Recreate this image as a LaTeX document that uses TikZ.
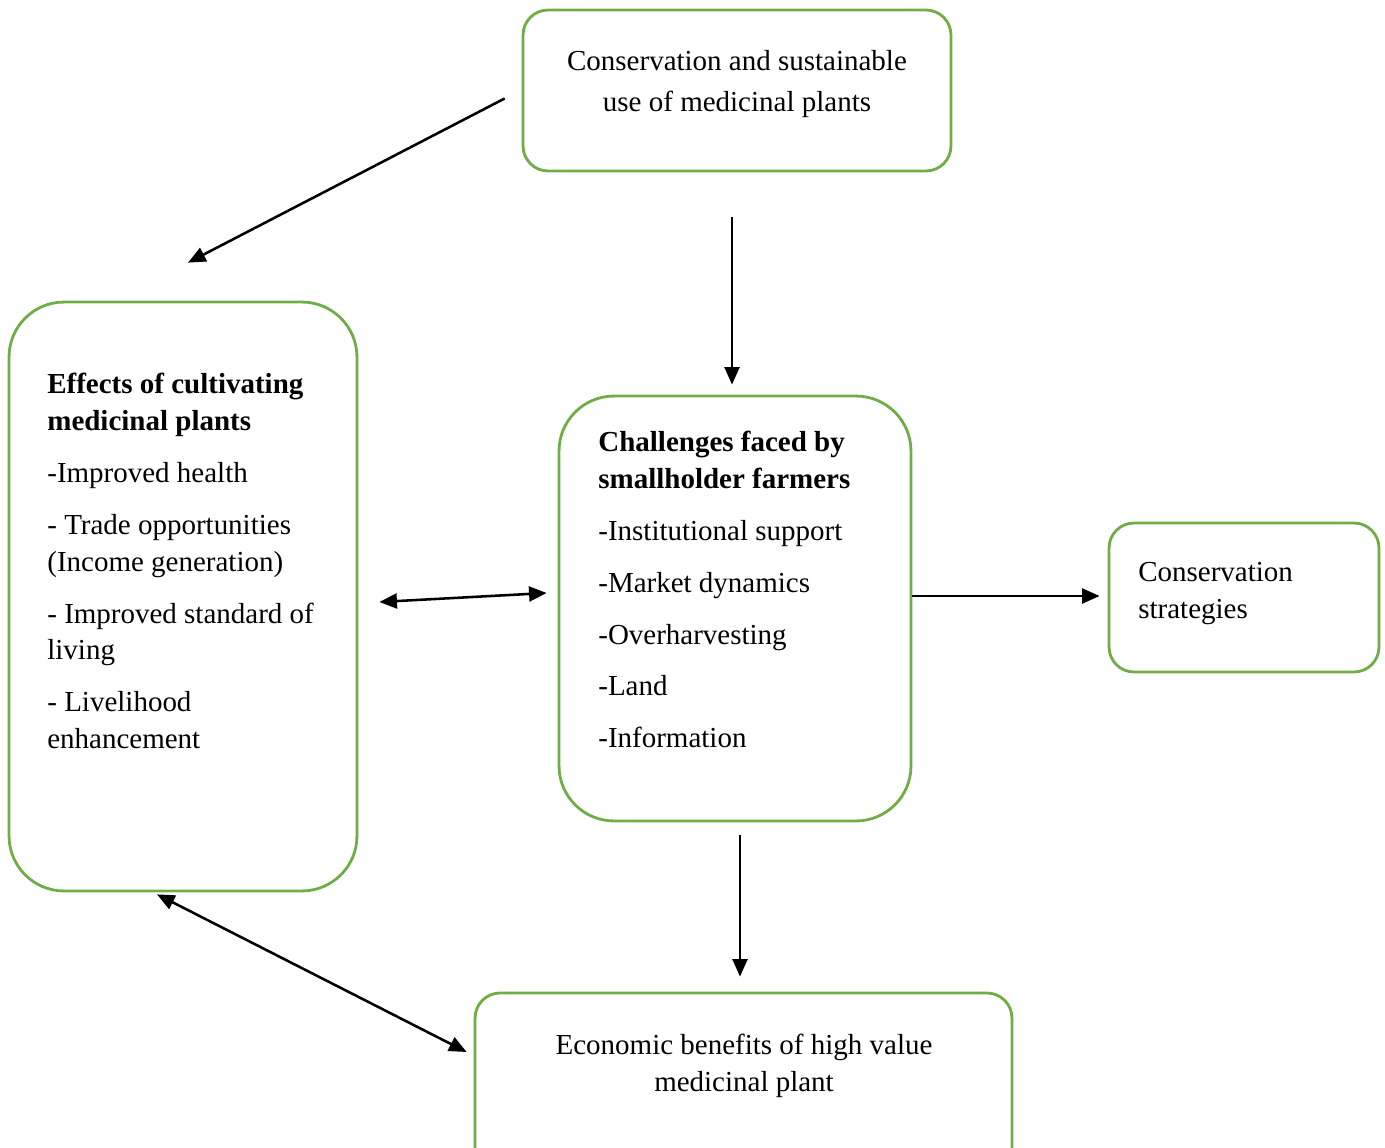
\documentclass[tikz,border=0pt]{standalone}
\usepackage{fontspec}
\setmainfont{Liberation Serif}
\usetikzlibrary{arrows.meta,positioning,calc}
\definecolor{boxgreen}{RGB}{112,173,71}

\begin{document}
\begin{tikzpicture}[x=0.02cm,y=-0.02cm,
  box/.style={draw=boxgreen,line width=1.6pt,rounded corners=#1,inner sep=0pt},
  box/.default=0.5cm,
  txt/.style={inner sep=0pt,font=\fontsize{16.5}{21}\selectfont},
  arr/.style={-{Triangle[length=10pt,width=8.5pt]},line width=1.45pt},
  darr/.style={{Triangle[length=10pt,width=8.5pt]}-{Triangle[length=10pt,width=8.5pt]},line width=1.45pt}]
\useasboundingbox (0,0) rectangle (1385,1148);

% boxes
\node[box,minimum width=8.56cm,minimum height=3.22cm] (cons) at (737,90.5) {};
\node[box=1.1cm,minimum width=6.96cm,minimum height=11.78cm] (eff) at (183,596.5) {};
\node[box=1.1cm,minimum width=7.04cm,minimum height=8.5cm] (chal) at (735,608.5) {};
\node[box,minimum width=5.4cm,minimum height=2.98cm] (strat) at (1244,597.5) {};
\node[box,minimum width=10.74cm,minimum height=3.6cm] (econ) at (743.5,1083) {};

% texts
\node[txt,align=center] (consT) at (737,84) {Conservation and sustainable\\[2pt]use of medicinal plants};
\node[txt,align=left,anchor=north west] (effT) at (47,373) {\textbf{Effects of cultivating}\\\textbf{medicinal plants}\\[8.5pt]
  -Improved health\\[8.5pt]
  - Trade opportunities\\(Income generation)\\[8.5pt]
  - Improved standard of\\living\\[8.5pt]
  - Livelihood\\enhancement};
\node[txt,align=left,anchor=north west] (chalT) at (598,431) {\textbf{Challenges faced by}\\\textbf{smallholder farmers}\\[8.5pt]
  -Institutional support\\[8.5pt]
  -Market dynamics\\[8.5pt]
  -Overharvesting\\[8.5pt]
  -Land\\[8.5pt]
  -Information};
\node[txt,align=left,anchor=north west] (stratT) at (1138,562) {Conservation\\strategies};
\node[txt,align=center] (econT) at (744,1066) {Economic benefits of high value\\medicinal plant};

% connectors
\draw[arr] ($(cons.west)+(-17,8)$) -- ($(eff.north)+(5,-38)$);
\draw[arr] ($(cons.south)+(-5,45)$) -- ($(chal.north)+(-3,-10)$);
\draw[darr] ($(eff.east)+(21,5.5)$) -- ($(chal.west)+(-11,-15.5)$);
\draw[arr] ($(chal.east)+(0,-12.5)$) -- ($(strat.west)+(-8,-1.5)$);
\draw[arr] ($(chal.south)+(5,13)$) -- ($(econ.north)+(-3.5,-15)$);
\draw[darr] ($(eff.south)+(-26,2)$) -- ($(econ.west)+(-7,-31)$);
\end{tikzpicture}
\end{document}
